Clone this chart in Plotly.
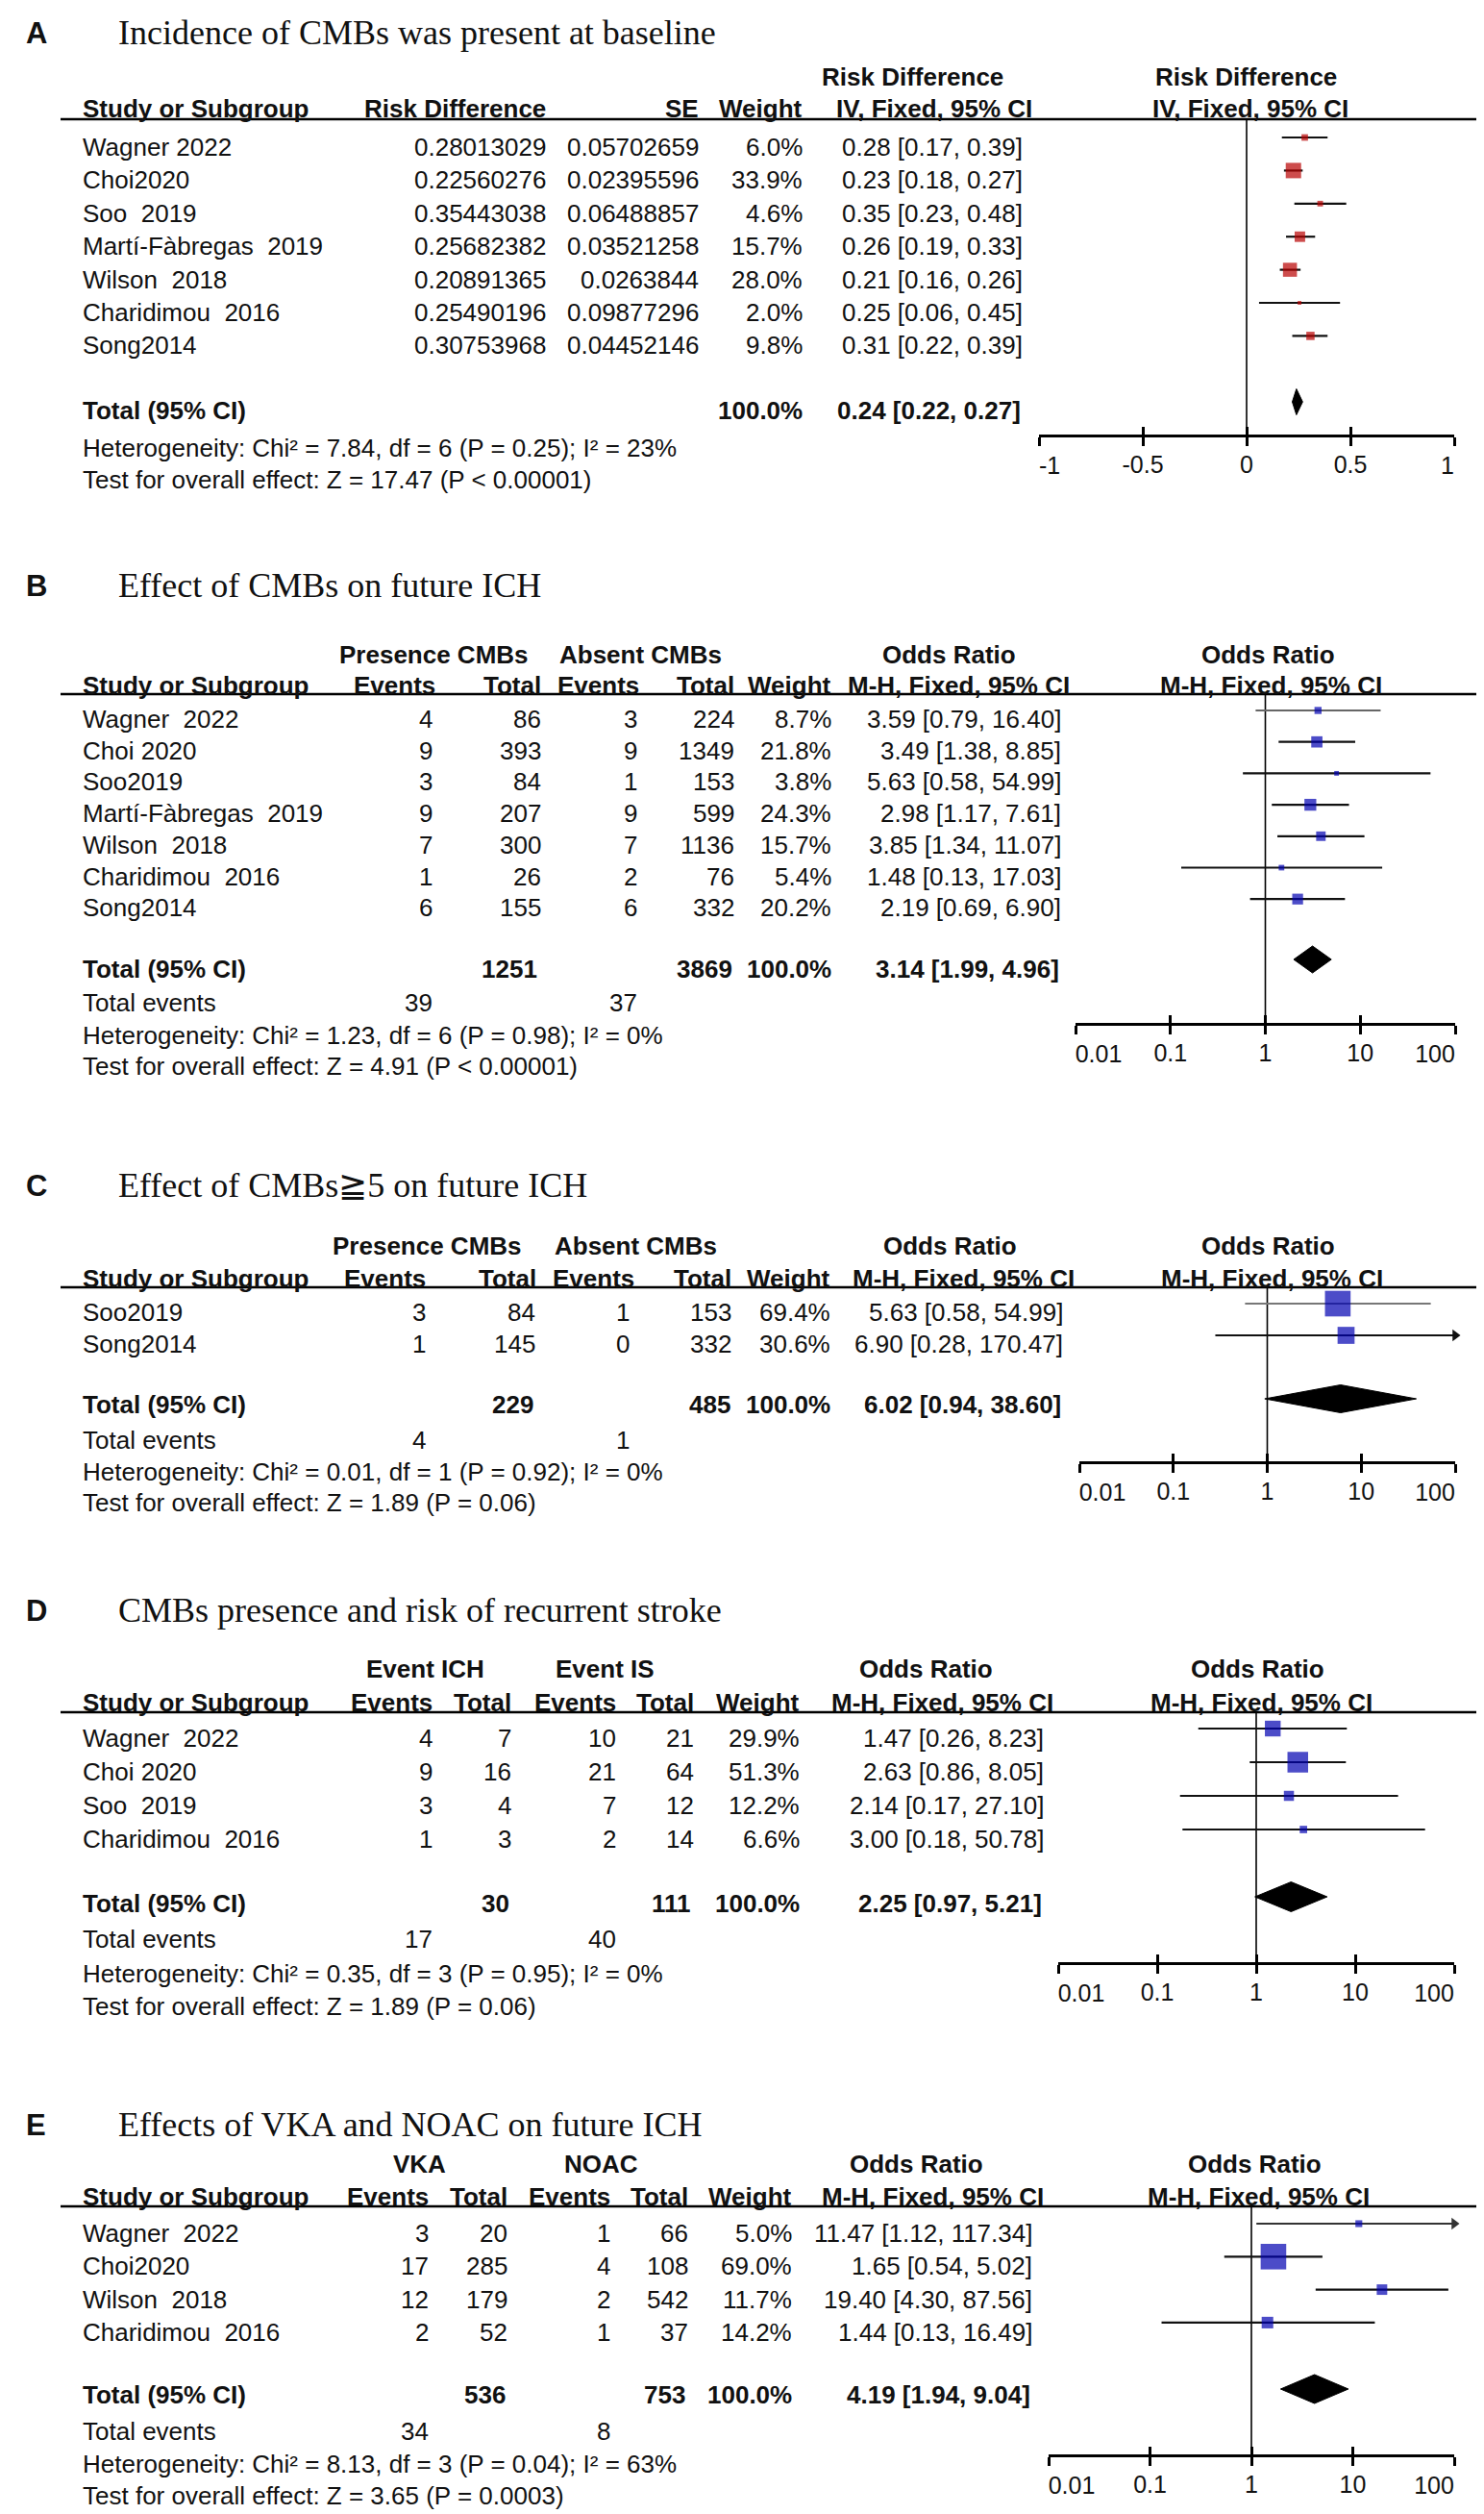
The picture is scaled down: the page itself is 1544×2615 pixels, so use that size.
import math
import plotly.graph_objects as go

W, H = 1544, 2615
SANS = "Liberation Sans, Arial, sans-serif"
SERIF = "Liberation Serif, Times New Roman, serif"
INK = "#111111"
NB = "\u00a0"
TICK_FS = 25
TICK_LEN = 9

# ---------------- data ----------------
# Panel A
A_studies = ["Wagner 2022", "Choi2020", "Soo  2019", "Martí-Fàbregas  2019", "Wilson  2018", "Charidimou  2016", "Song2014"]
A_rd = [0.28013029, 0.22560276, 0.35443038, 0.25682382, 0.20891365, 0.25490196, 0.30753968]
A_se = [0.05702659, 0.02395596, 0.06488857, 0.03521258, 0.0263844, 0.09877296, 0.04452146]
A_weight = [6.0, 33.9, 4.6, 15.7, 28.0, 2.0, 9.8]
A_lo = [0.17, 0.18, 0.23, 0.19, 0.16, 0.06, 0.22]
A_hi = [0.39, 0.27, 0.48, 0.33, 0.26, 0.45, 0.39]
A_total = [0.24, 0.22, 0.27]
A_het = "Heterogeneity: Chi² = 7.84, df = 6 (P = 0.25); I² = 23%"
A_test = "Test for overall effect: Z = 17.47 (P < 0.00001)"
A_tickvals = [-1, -0.5, 0, 0.5, 1]
A_ticktext = ["-1", "-0.5", "0", "0.5", "1"]

OR_tickvals = [0.01, 0.1, 1, 10, 100]
OR_ticktext = ["0.01", "0.1", "1", "10", "100"]

# Panel B
B_studies = ["Wagner  2022", "Choi 2020", "Soo2019", "Martí-Fàbregas  2019", "Wilson  2018", "Charidimou  2016", "Song2014"]
B_ev1 = [4, 9, 3, 9, 7, 1, 6]
B_tot1 = [86, 393, 84, 207, 300, 26, 155]
B_ev2 = [3, 9, 1, 9, 7, 2, 6]
B_tot2 = [224, 1349, 153, 599, 1136, 76, 332]
B_weight = [8.7, 21.8, 3.8, 24.3, 15.7, 5.4, 20.2]
B_or = [3.59, 3.49, 5.63, 2.98, 3.85, 1.48, 2.19]
B_lo = [0.79, 1.38, 0.58, 1.17, 1.34, 0.13, 0.69]
B_hi = [16.40, 8.85, 54.99, 7.61, 11.07, 17.03, 6.90]
B_totals = [1251, 3869]
B_events = [39, 37]
B_total = [3.14, 1.99, 4.96]
B_het = "Heterogeneity: Chi² = 1.23, df = 6 (P = 0.98); I² = 0%"
B_test = "Test for overall effect: Z = 4.91 (P < 0.00001)"

# Panel C
C_studies = ["Soo2019", "Song2014"]
C_ev1 = [3, 1]
C_tot1 = [84, 145]
C_ev2 = [1, 0]
C_tot2 = [153, 332]
C_weight = [69.4, 30.6]
C_or = [5.63, 6.90]
C_lo = [0.58, 0.28]
C_hi = [54.99, 170.47]
C_totals = [229, 485]
C_events = [4, 1]
C_total = [6.02, 0.94, 38.60]
C_het = "Heterogeneity: Chi² = 0.01, df = 1 (P = 0.92); I² = 0%"
C_test = "Test for overall effect: Z = 1.89 (P = 0.06)"

# Panel D
D_studies = ["Wagner  2022", "Choi 2020", "Soo  2019", "Charidimou  2016"]
D_ev1 = [4, 9, 3, 1]
D_tot1 = [7, 16, 4, 3]
D_ev2 = [10, 21, 7, 2]
D_tot2 = [21, 64, 12, 14]
D_weight = [29.9, 51.3, 12.2, 6.6]
D_or = [1.47, 2.63, 2.14, 3.00]
D_lo = [0.26, 0.86, 0.17, 0.18]
D_hi = [8.23, 8.05, 27.10, 50.78]
D_totals = [30, 111]
D_events = [17, 40]
D_total = [2.25, 0.97, 5.21]
D_het = "Heterogeneity: Chi² = 0.35, df = 3 (P = 0.95); I² = 0%"
D_test = "Test for overall effect: Z = 1.89 (P = 0.06)"

# Panel E
E_studies = ["Wagner  2022", "Choi2020", "Wilson  2018", "Charidimou  2016"]
E_ev1 = [3, 17, 12, 2]
E_tot1 = [20, 285, 179, 52]
E_ev2 = [1, 4, 2, 1]
E_tot2 = [66, 108, 542, 37]
E_weight = [5.0, 69.0, 11.7, 14.2]
E_or = [11.47, 1.65, 19.40, 1.44]
E_lo = [1.12, 0.54, 4.30, 0.13]
E_hi = [117.34, 5.02, 87.56, 16.49]
E_totals = [536, 753]
E_events = [34, 8]
E_total = [4.19, 1.94, 9.04]
E_het = "Heterogeneity: Chi² = 8.13, df = 3 (P = 0.04); I² = 63%"
E_test = "Test for overall effect: Z = 3.65 (P = 0.0003)"


def ci_str(e, lo, hi):
    return f"{e:.2f} [{lo:.2f}, {hi:.2f}]"


def pct(w):
    return f"{w:.1f}%"


CHAR_W = {".": 0.278, "-": 0.333}


def text_w(s, fs=TICK_FS):
    return sum(CHAR_W.get(c, 0.556) for c in s) * fs


MH = "M-H, Fixed, 95% CI"

panels = [
    dict(letter="A", title="Incidence of CMBs was present at baseline",
         studies=A_studies, est=A_rd, lo=A_lo, hi=A_hi, weight=A_weight, total=A_total,
         cols=[[str(v) for v in A_rd], [str(v) for v in A_se], [pct(w) for w in A_weight],
               [ci_str(e, l, h) for e, l, h in zip(A_rd, A_lo, A_hi)]],
         col_right=[561, 720, 828, 1057],
         hdr1=[("Risk Difference", 942, "center"), ("Risk Difference", 1288, "center")],
         hdr2=[("Study or Subgroup", 77, "left"), ("Risk Difference", 561, "right"), ("SE", 720, "right"),
               ("Weight", 828, "right"), ("IV, Fixed, 95% CI", 861, "left"), ("IV, Fixed, 95% CI", 1293, "center")],
         total_cells=[("100.0%", 828), (ci_str(*A_total), 1055)],
         events_cells=None, het=A_het, test=A_test,
         title_y=26, hdr1_y=72, hdr2_y=105, line_y=116, row0=145, dy=34.4, ci_off=10,
         total_y=419, diamond_y=410, events_y=None, het_y=458, test_y=491, axis_y=445,
         ax=[1073, 1505], atype="linear", arange=[-1, 1], tickvals=A_tickvals, ticktext=A_ticktext,
         null=0, color="#b80000", k=2.75, dh=27, line_colors={}),
    dict(letter="B", title="Effect of CMBs on future ICH",
         studies=B_studies, est=B_or, lo=B_lo, hi=B_hi, weight=B_weight, total=B_total,
         cols=[B_ev1, B_tot1, B_ev2, B_tot2, [pct(w) for w in B_weight],
               [ci_str(e, l, h) for e, l, h in zip(B_or, B_lo, B_hi)]],
         col_right=[443, 556, 656, 757, 858, 1097],
         hdr1=[("Presence CMBs", 443, "center"), ("Absent CMBs", 658, "center"), ("Odds Ratio", 979, "center"),
               ("Odds Ratio", 1311, "center")],
         hdr2=[("Study or Subgroup", 77, "left"), ("Events", 446, "right"), ("Total", 556, "right"),
               ("Events", 658, "right"), ("Total", 757, "right"), ("Weight", 858, "right"),
               (MH, 1106, "right"), (MH, 1314, "center")],
         total_cells=[(str(B_totals[0]), 552), (str(B_totals[1]), 755), ("100.0%", 858), (ci_str(*B_total), 1095)],
         events_cells=[(str(B_events[0]), 443), (str(B_events[1]), 656)], het=B_het, test=B_test,
         title_y=601, hdr1_y=673, hdr2_y=705, line_y=714, row0=740, dy=32.7, ci_off=9,
         total_y=1000, diamond_y=990, events_y=1035, het_y=1069, test_y=1101, axis_y=1057,
         ax=[1111, 1506], atype="log", arange=[-2, 2], tickvals=OR_tickvals, ticktext=OR_ticktext,
         null=1, color="#0000b0", k=2.5, dh=28, line_colors={0: "#666666"}),
    dict(letter="C", title="Effect of CMBs≧5 on future ICH",
         studies=C_studies, est=C_or, lo=C_lo, hi=C_hi, weight=C_weight, total=C_total,
         cols=[C_ev1, C_tot1, C_ev2, C_tot2, [pct(w) for w in C_weight],
               [ci_str(e, l, h) for e, l, h in zip(C_or, C_lo, C_hi)]],
         col_right=[436, 550, 648, 754, 857, 1099],
         hdr1=[("Presence CMBs", 436, "center"), ("Absent CMBs", 653, "center"), ("Odds Ratio", 980, "center"),
               ("Odds Ratio", 1311, "center")],
         hdr2=[("Study or Subgroup", 77, "left"), ("Events", 436, "right"), ("Total", 551, "right"),
               ("Events", 653, "right"), ("Total", 754, "right"), ("Weight", 857, "right"),
               (MH, 1111, "right"), (MH, 1315, "center")],
         total_cells=[(str(C_totals[0]), 548), (str(C_totals[1]), 753), ("100.0%", 857), (ci_str(*C_total), 1097)],
         events_cells=[(str(C_events[0]), 436), (str(C_events[1]), 648)], het=C_het, test=C_test,
         title_y=1225, hdr1_y=1288, hdr2_y=1322, line_y=1331, row0=1357, dy=33, ci_off=9,
         total_y=1453, diamond_y=1447, events_y=1490, het_y=1523, test_y=1555, axis_y=1513,
         ax=[1115, 1506], atype="log", arange=[-2, 2], tickvals=OR_tickvals, ticktext=OR_ticktext,
         null=1, color="#0000b0", k=3.2, dh=29, line_colors={0: "#777777"}),
    dict(letter="D", title="CMBs presence and risk of recurrent stroke",
         studies=D_studies, est=D_or, lo=D_lo, hi=D_hi, weight=D_weight, total=D_total,
         cols=[D_ev1, D_tot1, D_ev2, D_tot2, [pct(w) for w in D_weight],
               [ci_str(e, l, h) for e, l, h in zip(D_or, D_lo, D_hi)]],
         col_right=[443, 525, 634, 715, 825, 1079],
         hdr1=[("Event ICH", 434, "center"), ("Event IS", 621, "center"), ("Odds Ratio", 955, "center"),
               ("Odds Ratio", 1300, "center")],
         hdr2=[("Study or Subgroup", 77, "left"), ("Events", 443, "right"), ("Total", 525, "right"),
               ("Events", 634, "right"), ("Total", 715, "right"), ("Weight", 825, "right"),
               (MH, 1089, "right"), (MH, 1304, "center")],
         total_cells=[(str(D_totals[0]), 523), (str(D_totals[1]), 712), ("100.0%", 825), (ci_str(*D_total), 1077)],
         events_cells=[(str(D_events[0]), 443), (str(D_events[1]), 634)], het=D_het, test=D_test,
         title_y=1667, hdr1_y=1728, hdr2_y=1763, line_y=1773, row0=1800, dy=35, ci_off=10,
         total_y=1972, diamond_y=1965, events_y=2009, het_y=2045, test_y=2079, axis_y=2034,
         ax=[1093, 1505], atype="log", arange=[-2, 2], tickvals=OR_tickvals, ticktext=OR_ticktext,
         null=1, color="#0000b0", k=3.0, dh=31, line_colors={}),
    dict(letter="E", title="Effects of VKA and NOAC on future ICH",
         studies=E_studies, est=E_or, lo=E_lo, hi=E_hi, weight=E_weight, total=E_total,
         cols=[E_ev1, E_tot1, E_ev2, E_tot2, [pct(w) for w in E_weight],
               [ci_str(e, l, h) for e, l, h in zip(E_or, E_lo, E_hi)]],
         col_right=[439, 521, 628, 709, 817, 1067],
         hdr1=[("VKA", 428, "center"), ("NOAC", 617, "center"), ("Odds Ratio", 946, "center"),
               ("Odds Ratio", 1297, "center")],
         hdr2=[("Study or Subgroup", 77, "left"), ("Events", 439, "right"), ("Total", 521, "right"),
               ("Events", 628, "right"), ("Total", 709, "right"), ("Weight", 817, "right"),
               (MH, 1079, "right"), (MH, 1301, "center")],
         total_cells=[(str(E_totals[0]), 519), (str(E_totals[1]), 706), ("100.0%", 817), (ci_str(*E_total), 1065)],
         events_cells=[(str(E_events[0]), 439), (str(E_events[1]), 628)], het=E_het, test=E_test,
         title_y=2202, hdr1_y=2243, hdr2_y=2277, line_y=2287, row0=2315, dy=34.3, ci_off=10,
         total_y=2483, diamond_y=2477, events_y=2521, het_y=2555, test_y=2588, axis_y=2546,
         ax=[1083, 1505], atype="log", arange=[-2, 2], tickvals=OR_tickvals, ticktext=OR_ticktext,
         null=1, color="#0000b0", k=3.2, dh=30, line_colors={0: "#333333"}),
]

fig = go.Figure()
ann = []
shapes = []
layout = {}


def T(x, y, s, anchor="left", bold=False, size=26, family=SANS):
    s = str(s).replace("  ", NB + NB)
    ann.append(dict(x=x / W, y=y, xref="paper", yref="y", text=(f"<b>{s}</b>" if bold else s),
                    xanchor=anchor, yanchor="middle", showarrow=False, borderpad=0,
                    font=dict(size=size, family=family, color=INK)))


for i, P in enumerate(panels):
    xid = "x" if i == 0 else f"x{i + 1}"
    oid1 = f"x{i + 6}"
    oid2 = f"x{i + 11}"
    main_key = "xaxis" if i == 0 else f"xaxis{i + 1}"
    tt = P["ticktext"]
    nt = len(tt)
    common = dict(domain=[P["ax"][0] / W, P["ax"][1] / W], anchor="free", position=1 - P["axis_y"] / H,
                  type=P["atype"], range=P["arange"], tickmode="array", tickvals=P["tickvals"],
                  showgrid=False, zeroline=False, fixedrange=True, automargin=False,
                  tickfont=dict(size=TICK_FS, family=SANS, color=INK))
    # main axis: line, downward ticks, middle labels
    layout[main_key] = dict(common, showline=True, linecolor="#000", linewidth=2.5, ticks="outside",
                            ticklen=TICK_LEN, tickwidth=2.5, tickcolor="#000", ticklabelstandoff=-2,
                            ticktext=[""] + tt[1:-1] + [""])
    # overlay 1: upward ticks + first label, aligned to start at its tick
    layout[f"xaxis{i + 6}"] = dict(common, showline=False, ticks="inside", ticklen=TICK_LEN, tickwidth=2.5,
                                   tickcolor="#000", overlaying=xid, ticklabelstandoff=TICK_LEN + 5,
                                   ticktext=[tt[0]] + [""] * (nt - 1),
                                   ticklabelshift=int(round(text_w(tt[0]) / 2)))
    # overlay 2: last label, aligned to end at its tick
    layout[f"xaxis{i + 11}"] = dict(common, showline=False, ticks="", overlaying=xid,
                                    ticklabelstandoff=TICK_LEN + 5,
                                    ticktext=[""] * (nt - 1) + [tt[-1]],
                                    ticklabelshift=-int(round(text_w(tt[-1]) / 2)))
    for oid in (oid1, oid2):
        fig.add_trace(go.Scatter(x=[], y=[], xaxis=oid, yaxis="y", showlegend=False, hoverinfo="skip"))

    # title
    T(18, P["title_y"], P["letter"], bold=True, size=31)
    T(114, P["title_y"], P["title"], size=36, family=SERIF)
    # headers
    for s, x, a in P["hdr1"]:
        T(x, P["hdr1_y"], s, anchor=a, bold=True)
    for s, x, a in P["hdr2"]:
        T(x, P["hdr2_y"], s, anchor=a, bold=True)
    shapes.append(dict(type="line", xref="paper", yref="y", x0=55 / W, x1=1530 / W,
                       y0=P["line_y"], y1=P["line_y"], line=dict(color="#000", width=2.5), layer="below"))
    # null line
    shapes.append(dict(type="line", xref=xid, yref="y", x0=P["null"], x1=P["null"],
                       y0=P["line_y"], y1=P["axis_y"], line=dict(color="#000", width=1.6), layer="below"))

    n = len(P["studies"])
    row_y = [P["row0"] + j * P["dy"] for j in range(n)]
    mark_y = [y - P["ci_off"] for y in row_y]
    for j in range(n):
        T(77, row_y[j], P["studies"][j])
        for col, xr in zip(P["cols"], P["col_right"]):
            T(xr, row_y[j], col[j], anchor="right")

    # totals
    T(77, P["total_y"], "Total (95% CI)", bold=True)
    for s, x in P["total_cells"]:
        T(x, P["total_y"], s, anchor="right", bold=True)
    if P["events_cells"]:
        T(77, P["events_y"], "Total events")
        for s, x in P["events_cells"]:
            T(x, P["events_y"], s, anchor="right")
    T(77, P["het_y"], P["het"])
    T(77, P["test_y"], P["test"])

    # CI lines
    xmax = P["arange"][1] if P["atype"] == "linear" else 10 ** P["arange"][1]
    for j in range(n):
        lc = P["line_colors"].get(j, "#111111")
        fig.add_trace(go.Scatter(x=[P["lo"][j], P["hi"][j]], y=[mark_y[j], mark_y[j]], mode="lines",
                                 line=dict(color=lc, width=2.2), xaxis=xid, yaxis="y",
                                 showlegend=False, hoverinfo="skip"))
    # arrows for truncated CIs
    arr = [j for j in range(n) if P["hi"][j] > xmax]
    if arr:
        fig.add_trace(go.Scatter(x=[xmax for j in arr], y=[mark_y[j] for j in arr], mode="markers",
                                 marker=dict(symbol="triangle-right", size=11,
                                             color=[P["line_colors"].get(j, "#111111") for j in arr]),
                                 cliponaxis=False, xaxis=xid, yaxis="y", showlegend=False, hoverinfo="skip"))
    # squares
    fig.add_trace(go.Scatter(x=P["est"], y=mark_y, mode="markers",
                             marker=dict(symbol="square", size=[P["k"] * math.sqrt(w) for w in P["weight"]],
                                         color=P["color"], line=dict(width=0)),
                             xaxis=xid, yaxis="y", showlegend=False, hoverinfo="skip"))
    # diamond
    e, lo, hi = P["total"]
    yc, h = P["diamond_y"], P["dh"] / 2
    fig.add_trace(go.Scatter(x=[lo, e, hi, e, lo], y=[yc, yc - h, yc, yc + h, yc], mode="lines",
                             fill="toself", fillcolor="#000", line=dict(color="#000", width=1),
                             xaxis=xid, yaxis="y", showlegend=False, hoverinfo="skip"))

layout["yaxis"] = dict(domain=[0, 1], range=[H, 0], visible=False, fixedrange=True, showgrid=False,
                       zeroline=False)
fig.update_layout(**layout)
fig.update_layout(width=W, height=H, margin=dict(l=0, r=0, t=0, b=0), template="none",
                  paper_bgcolor="white", plot_bgcolor="rgba(0,0,0,0)", showlegend=False,
                  annotations=ann, shapes=shapes, font=dict(family=SANS, color=INK))
fig.write_html("out.html")
